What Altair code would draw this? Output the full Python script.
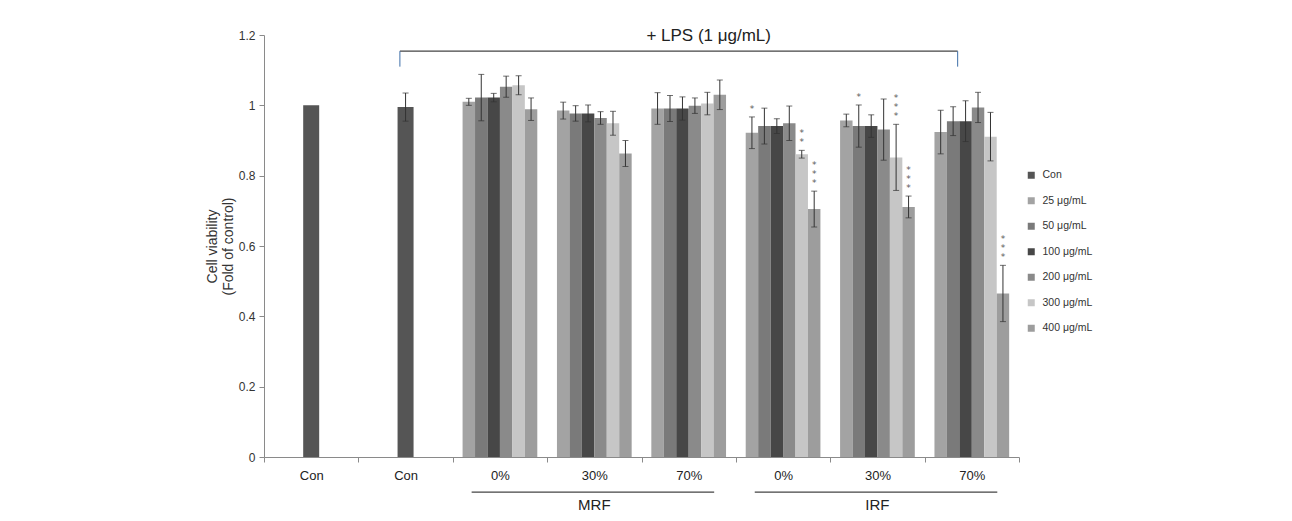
import altair as alt
import pandas as pd

# ---------------- data ----------------
categories = ["Con", "LPS", "MRF 0%", "MRF 30%", "MRF 70%", "IRF 0%", "IRF 30%", "IRF 70%"]
cat_labels = ["Con", "Con", "0%", "30%", "70%", "0%", "30%", "70%"]

legend_order = ["Con", "25 μg/mL", "50 μg/mL", "100 μg/mL", "200 μg/mL", "300 μg/mL", "400 μg/mL"]
colors = ["#555555", "#a3a3a3", "#7a7a7a", "#474747", "#8a8a8a", "#c6c6c6", "#9d9d9d"]

dose_series = ["25 μg/mL", "50 μg/mL", "100 μg/mL", "200 μg/mL", "300 μg/mL", "400 μg/mL"]

# control bars (no LPS, LPS only)
con_cats = ["Con", "LPS"]
con_values = [1.0, 0.995]
con_errs = [0.0, 0.04]

# treated groups
group_cats = ["MRF 0%", "MRF 30%", "MRF 70%", "IRF 0%", "IRF 30%", "IRF 70%"]
group_values = [
    [1.01, 1.022, 1.022, 1.053, 1.057, 0.989],
    [0.985, 0.977, 0.977, 0.964, 0.949, 0.863],
    [0.991, 0.991, 0.991, 0.999, 1.005, 1.03],
    [0.922, 0.941, 0.941, 0.949, 0.861, 0.705],
    [0.957, 0.941, 0.941, 0.931, 0.852, 0.711],
    [0.924, 0.955, 0.955, 0.994, 0.911, 0.465],
]
group_errs = [
    [0.01, 0.066, 0.012, 0.03, 0.027, 0.032],
    [0.024, 0.022, 0.024, 0.018, 0.034, 0.037],
    [0.045, 0.037, 0.033, 0.022, 0.032, 0.042],
    [0.045, 0.051, 0.021, 0.049, 0.011, 0.051],
    [0.018, 0.06, 0.032, 0.087, 0.094, 0.031],
    [0.062, 0.041, 0.058, 0.043, 0.069, 0.08],
]
group_stars = [
    ["", "", "", "", "", ""],
    ["", "", "", "", "", ""],
    ["", "", "", "", "", ""],
    ["*", "", "", "", "**", "***"],
    ["", "*", "", "", "***", "***"],
    ["", "", "", "", "", "***"],
]

lps_text = "+ LPS (1 μg/mL)"
bracket_y = [1.154, 1.11]
text_y = 1.197
sub_groups = ["MRF", "IRF"]
sub_centers = ["MRF 30%", "IRF 30%"]
sub_start = ["MRF 0%", "IRF 0%"]
sub_end = ["MRF 70%", "IRF 70%"]
sub_line_y = -0.1
sub_text_y = -0.136

# ---------------- tables ----------------
con_df = pd.DataFrame({
    "cat": con_cats,
    "series": ["Con", "Con"],
    "value": con_values,
    "err": con_errs,
})
con_df["lo"] = con_df["value"] - con_df["err"]
con_df["hi"] = con_df["value"] + con_df["err"]

rows = []
for gi, g in enumerate(group_cats):
    for si, s in enumerate(dose_series):
        v = group_values[gi][si]
        e = group_errs[gi][si]
        rows.append({"cat": g, "series": s, "value": v, "err": e,
                     "lo": v - e, "hi": v + e, "star": group_stars[gi][si]})
grp_df = pd.DataFrame(rows)
star_df = grp_df[grp_df["star"] != ""].copy()
star_df["star_lines"] = star_df["star"].apply(lambda s: list(s))
star_df["n"] = star_df["star"].str.len()

label_map = "{" + ",".join(f"'{c}':'{l}'" for c, l in zip(categories, cat_labels)) + "}"

x_scale = alt.Scale(domain=categories, paddingInner=0, paddingOuter=0)
y_scale = alt.Scale(domain=[0, 1.2], nice=False, zero=True)
color_scale = alt.Scale(domain=legend_order, range=colors)
xoff_scale = alt.Scale(domain=dose_series, paddingInner=0, paddingOuter=0.79)

X = alt.X("cat:N", scale=x_scale, sort=categories,
          axis=alt.Axis(title=None, tickBand="extent", labelAngle=0,
                        labelExpr=f"{label_map}[datum.value]",
                        domainColor="#8a8a8a", tickColor="#8a8a8a", tickSize=5,
                        labelFontSize=13, labelColor="#222222", labelPadding=7))
Y = alt.Y("value:Q", scale=y_scale,
          axis=alt.Axis(title=["Cell viability", "(Fold of  control)"], grid=False,
                        values=[0, 0.2, 0.4, 0.6, 0.8, 1.0, 1.2], format="~g",
                        domainColor="#8a8a8a", tickColor="#8a8a8a", tickSize=5,
                        labelFontSize=12, labelColor="#333333", labelPadding=4,
                        titleFontSize=14, titleFontWeight="normal", titleColor="#333333",
                        titleLineHeight=16, titlePadding=3))
C = alt.Color("series:N", scale=color_scale,
              legend=alt.Legend(title=None, orient="none", legendX=762, legendY=135,
                                symbolType="square", symbolSize=49, symbolStrokeWidth=0,
                                labelFontSize=10.5, labelColor="#333333", rowPadding=14.5,
                                labelOffset=6))

con_bars = alt.Chart(con_df).mark_bar(size=16).encode(x=X, y=Y, color=C)
grp_bars = alt.Chart(grp_df).mark_bar().encode(
    x=X, y=Y, color=C, xOffset=alt.XOffset("series:N", scale=xoff_scale, sort=dose_series))

ERR_COLOR = "#333333"
con_err_df = con_df[con_df["err"] > 0]
con_err = alt.Chart(con_err_df).mark_rule(color=ERR_COLOR, strokeWidth=1).encode(
    x=alt.X("cat:N", scale=x_scale), y=alt.Y("lo:Q", scale=y_scale), y2="hi:Q")
con_cap_hi = alt.Chart(con_err_df).mark_tick(color=ERR_COLOR, size=6, thickness=1, orient="horizontal").encode(
    x=alt.X("cat:N", scale=x_scale), y=alt.Y("hi:Q", scale=y_scale))
con_cap_lo = alt.Chart(con_err_df).mark_tick(color=ERR_COLOR, size=6, thickness=1, orient="horizontal").encode(
    x=alt.X("cat:N", scale=x_scale), y=alt.Y("lo:Q", scale=y_scale))

XO = alt.XOffset("series:N", scale=xoff_scale, sort=dose_series)
grp_err = alt.Chart(grp_df).mark_rule(color=ERR_COLOR, strokeWidth=1).encode(
    x=alt.X("cat:N", scale=x_scale), xOffset=XO, y=alt.Y("lo:Q", scale=y_scale), y2="hi:Q")
grp_cap_hi = alt.Chart(grp_df).mark_tick(color=ERR_COLOR, size=6, thickness=1, orient="horizontal").encode(
    x=alt.X("cat:N", scale=x_scale), xOffset=XO, y=alt.Y("hi:Q", scale=y_scale))
grp_cap_lo = alt.Chart(grp_df).mark_tick(color=ERR_COLOR, size=6, thickness=1, orient="horizontal").encode(
    x=alt.X("cat:N", scale=x_scale), xOffset=XO, y=alt.Y("lo:Q", scale=y_scale))

# significance stars: one layer per stack height so each stack ends just above its error bar
STAR_FS = 9
STAR_LH = 9
star_layers = []
for n in (1, 2, 3):
    sub = star_df[star_df["n"] == n]
    if len(sub) == 0:
        continue
    star_layers.append(
        alt.Chart(sub).mark_text(color="#5a5a5a", fontSize=STAR_FS, font="DejaVu Sans",
                                 baseline="alphabetic", lineHeight=STAR_LH,
                                 dy=-5 - STAR_LH * (n - 1)).encode(
            x=alt.X("cat:N", scale=x_scale), xOffset=XO, y=alt.Y("hi:Q", scale=y_scale),
            text="star_lines"))

# LPS bracket
BR = "#3d6fa8"
br_df = pd.DataFrame({"a": [categories[1]], "b": [categories[-1]],
                      "y1": [bracket_y[0]], "y2": [bracket_y[1]], "t": [lps_text],
                      "tc": ["MRF 70%"], "ty": [text_y]})
br_h = alt.Chart(br_df).mark_rule(color="#444444", strokeWidth=1.2).encode(
    x=alt.X("a:N", scale=x_scale, bandPosition=0.44),
    x2=alt.X2("b:N", bandPosition=0.35),
    y=alt.Y("y1:Q", scale=y_scale))
br_l = alt.Chart(br_df).mark_rule(color=BR, strokeWidth=1).encode(
    x=alt.X("a:N", scale=x_scale, bandPosition=0.44),
    y=alt.Y("y1:Q", scale=y_scale), y2="y2:Q")
br_r = alt.Chart(br_df).mark_rule(color=BR, strokeWidth=1).encode(
    x=alt.X("b:N", scale=x_scale, bandPosition=0.35),
    y=alt.Y("y1:Q", scale=y_scale), y2="y2:Q")
br_t = alt.Chart(br_df).mark_text(fontSize=17, color="#222222", dx=20).encode(
    x=alt.X("tc:N", scale=x_scale), y=alt.Y("ty:Q", scale=y_scale), text="t:N")

# MRF / IRF sub labels below axis
sub_df = pd.DataFrame({"g": sub_groups, "c": sub_centers, "s": sub_start, "e": sub_end,
                       "ly": [sub_line_y] * 2, "ty": [sub_text_y] * 2})
sub_line = alt.Chart(sub_df).mark_rule(color="#444444", strokeWidth=1.2).encode(
    x=alt.X("s:N", scale=x_scale, bandPosition=0.2),
    x2=alt.X2("e:N", bandPosition=0.77),
    y=alt.Y("ly:Q", scale=y_scale))
sub_text = alt.Chart(sub_df).mark_text(fontSize=15, color="#222222").encode(
    x=alt.X("c:N", scale=x_scale), y=alt.Y("ty:Q", scale=y_scale), text="g:N")

chart = alt.layer(
    con_bars, grp_bars, con_err, con_cap_hi, con_cap_lo,
    grp_err, grp_cap_hi, grp_cap_lo, *star_layers,
    br_h, br_l, br_r, br_t, sub_line, sub_text,
).properties(
    width=755, height=422,
    autosize=alt.AutoSizeParams(type="none"),
    padding={"left": 256, "top": 27, "right": 265, "bottom": 56},
).configure(font="Liberation Sans").configure_view(stroke=None)

chart.save("out.html", embed_options={"renderer": "svg", "actions": False})
